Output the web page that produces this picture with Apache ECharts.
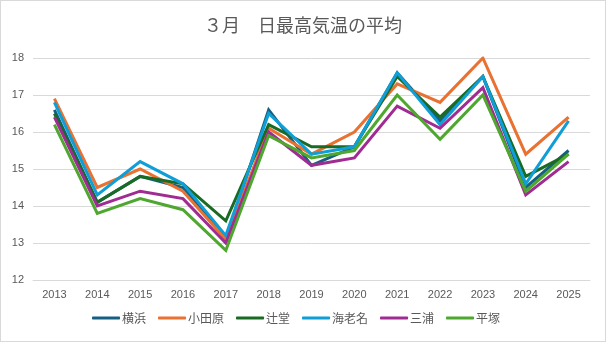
<!DOCTYPE html>
<html><head><meta charset="utf-8">
<script src="https://cdn.jsdelivr.net/npm/echarts@6/dist/echarts.min.js"></script>
<style>html,body{margin:0;padding:0;background:#fff}#c{width:604px;height:340px;border:1px solid #d9d9d9;}</style>
</head><body><div id="c"></div>
<script>
const titleText = '３月　日最高気温の平均';
const years = ['2013','2014','2015','2016','2017','2018','2019','2020','2021','2022','2023','2024','2025'];
const seriesNames = ['横浜','小田原','辻堂','海老名','三浦','平塚'];
const yokohama = [16.6,14.1,14.8,14.5,13.1,16.6,15.1,15.6,17.6,16.3,17.5,14.5,15.5];
const odawara  = [16.9,14.5,15.0,14.4,13.1,16.1,15.4,16.0,17.3,16.8,18.0,15.4,16.4];
const tsujido  = [16.5,14.1,14.8,14.6,13.6,16.2,15.6,15.6,17.5,16.4,17.5,14.8,15.4];
const ebina    = [16.8,14.3,15.2,14.6,13.2,16.5,15.4,15.6,17.6,16.2,17.5,14.6,16.3];
const miura    = [16.4,14.0,14.4,14.2,13.0,16.0,15.1,15.3,16.7,16.1,17.2,14.3,15.2];
const hiratsuka= [16.2,13.8,14.2,13.9,12.8,15.9,15.3,15.5,17.0,15.8,17.0,14.4,15.4];
const yTicks = {min:12, max:18, interval:1};

const colors = ['#156082','#E97132','#196B24','#0F9ED5','#A02B93','#4EA72E'];
const dataSets = [yokohama, odawara, tsujido, ebina, miura, hiratsuka];
const font = '"Noto Sans CJK JP", "Noto Sans", sans-serif';
const chart = echarts.init(document.getElementById('c'), null, {renderer:'canvas'});
chart.setOption({
  animation:false,
  color: colors,
  textStyle:{fontFamily:font},
  title:{text:titleText, left:'center', top:10,
    textStyle:{fontSize:18, fontWeight:'normal', color:'#595959', fontFamily:font}},
  grid:{left:32, right:15, top:57, bottom:61, containLabel:false},
  legend:{bottom:12, left:86, itemWidth:28, itemHeight:3, itemGap:12, icon:'roundRect',
    textStyle:{fontSize:12, color:'#595959', fontFamily:font, padding:[0,0,0,-3]},
    data: seriesNames},
  xAxis:{type:'category', data:years, boundaryGap:true,
    axisLine:{lineStyle:{color:'#d9d9d9'}}, axisTick:{show:false},
    axisLabel:{color:'#595959', fontSize:11, margin:9, fontFamily:'"Liberation Sans", sans-serif'}},
  yAxis:{type:'value', min:yTicks.min, max:yTicks.max, interval:yTicks.interval,
    axisLine:{show:false}, axisTick:{show:false},
    splitLine:{lineStyle:{color:'#d9d9d9', width:1}},
    axisLabel:{color:'#595959', fontSize:11, margin:9, fontFamily:'"Liberation Sans", sans-serif'}},
  series: seriesNames.map((n,i)=>({
    name:n, type:'line', data:dataSets[i], symbol:'none',
    lineStyle:{width:3, color:colors[i], join:'miter'}, itemStyle:{color:colors[i]}
  }))
});
</script></body></html>
